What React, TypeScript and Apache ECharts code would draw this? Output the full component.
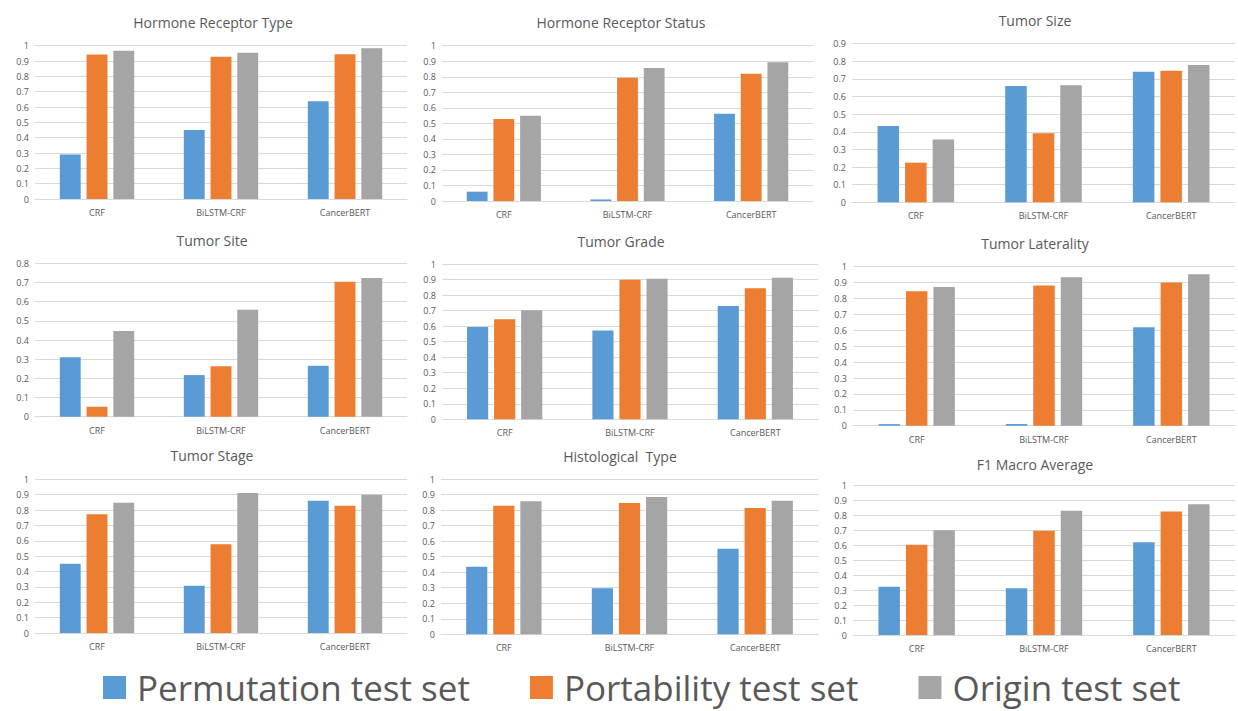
import React, { useEffect, useRef } from "react";
import * as echarts from "echarts";

const categories = ["CRF", "BiLSTM-CRF", "CancerBERT"];
const seriesNames = ["Permutation test set", "Portability test set", "Origin test set"];
const seriesColors = ["#5B9BD5", "#ED7D31", "#A5A5A5"];

const panelTitles = [
  "Hormone Receptor Type",
  "Hormone Receptor Status",
  "Tumor Size",
  "Tumor Site",
  "Tumor Grade",
  "Tumor Laterality",
  "Tumor Stage",
  "Histological  Type",
  "F1 Macro Average",
];
const panelMax = [1, 1, 0.9, 0.8, 1, 1, 1, 1, 1];

// [Permutation, Portability, Origin] for CRF, BiLSTM-CRF, CancerBERT
const hormoneTypePerm = [0.29, 0.45, 0.637];
const hormoneTypePort = [0.943, 0.928, 0.945];
const hormoneTypeOrig = [0.967, 0.954, 0.983];

const hormoneStatusPerm = [0.06, 0.01, 0.562];
const hormoneStatusPort = [0.528, 0.794, 0.82];
const hormoneStatusOrig = [0.549, 0.856, 0.893];

const tumorSizePerm = [0.433, 0.66, 0.741];
const tumorSizePort = [0.225, 0.392, 0.747];
const tumorSizeOrig = [0.357, 0.664, 0.779];

const tumorSitePerm = [0.31, 0.217, 0.266];
const tumorSitePort = [0.052, 0.263, 0.704];
const tumorSiteOrig = [0.447, 0.558, 0.723];

const tumorGradePerm = [0.594, 0.571, 0.73];
const tumorGradePort = [0.644, 0.899, 0.844];
const tumorGradeOrig = [0.702, 0.905, 0.912];

const lateralityPerm = [0.01, 0.01, 0.619];
const lateralityPort = [0.845, 0.881, 0.9];
const lateralityOrig = [0.872, 0.933, 0.952];

const tumorStagePerm = [0.451, 0.308, 0.861];
const tumorStagePort = [0.772, 0.577, 0.828];
const tumorStageOrig = [0.848, 0.911, 0.9];

const histTypePerm = [0.435, 0.296, 0.551];
const histTypePort = [0.828, 0.845, 0.813];
const histTypeOrig = [0.856, 0.884, 0.86];

const f1MacroPerm = [0.324, 0.313, 0.621];
const f1MacroPort = [0.605, 0.699, 0.828];
const f1MacroOrig = [0.701, 0.833, 0.876];

const panelData = [
  [hormoneTypePerm, hormoneTypePort, hormoneTypeOrig],
  [hormoneStatusPerm, hormoneStatusPort, hormoneStatusOrig],
  [tumorSizePerm, tumorSizePort, tumorSizeOrig],
  [tumorSitePerm, tumorSitePort, tumorSiteOrig],
  [tumorGradePerm, tumorGradePort, tumorGradeOrig],
  [lateralityPerm, lateralityPort, lateralityOrig],
  [tumorStagePerm, tumorStagePort, tumorStageOrig],
  [histTypePerm, histTypePort, histTypeOrig],
  [f1MacroPerm, f1MacroPort, f1MacroOrig],
];

// layout: [left, top, right, bottom] of each plot area
const gridRects = [
  [35, 45.7, 407, 199],
  [442, 45.7, 813, 201],
  [852, 43.7, 1235, 202.3],
  [35, 263.3, 407, 416.7],
  [442, 264, 818, 419.3],
  [853, 266.7, 1235, 425.7],
  [35, 479.3, 407, 633],
  [441, 479, 818, 634.3],
  [853, 485.7, 1235, 635],
];
const titlePos = [
  [213, 22.7],
  [621, 22],
  [1035, 20],
  [212, 240],
  [621, 241],
  [1035, 243],
  [212, 455],
  [620, 456],
  [1035, 464],
];

const FONT = "'Open Sans', 'Liberation Sans', sans-serif";
const TEXT_COLOR = "#595959";
const GRID_COLOR = "#D9D9D9";

export default function App() {
  const ref = useRef<HTMLDivElement>(null);

  useEffect(() => {
    if (!ref.current) return;
    const chart = echarts.init(ref.current, null, { renderer: "svg" });

    const grid = gridRects.map(([l, t, r, b]) => ({
      left: l,
      top: t,
      width: r - l,
      height: b - t,
      containLabel: false,
    }));

    const xAxis = gridRects.map((_, i) => ({
      type: "category",
      gridIndex: i,
      data: categories,
      axisTick: { show: false },
      axisLine: { show: true, lineStyle: { color: GRID_COLOR, width: 1 } },
      axisLabel: { color: TEXT_COLOR, fontSize: 9, fontFamily: FONT, margin: 9 },
    }));

    const yAxis = gridRects.map((_, i) => ({
      type: "value",
      gridIndex: i,
      min: 0,
      max: panelMax[i],
      interval: 0.1,
      axisLine: { show: false },
      axisTick: { show: false },
      splitLine: { show: true, lineStyle: { color: GRID_COLOR, width: 1 } },
      axisLabel: { color: TEXT_COLOR, fontSize: 9, fontFamily: FONT, margin: 6 },
    }));

    const series: any[] = [];
    panelData.forEach((sets, i) => {
      sets.forEach((vals, k) => {
        series.push({
          type: "bar",
          name: seriesNames[k],
          xAxisIndex: i,
          yAxisIndex: i,
          data: vals,
          itemStyle: { color: seriesColors[k] },
          barGap: "28%",
          barCategoryGap: "40%",
        });
      });
    });

    const graphic = panelTitles.map((t, i) => ({
      type: "text",
      x: titlePos[i][0],
      y: titlePos[i][1],
      style: {
        text: t,
        fill: TEXT_COLOR,
        fontSize: 14,
        fontFamily: FONT,
        textAlign: "center",
        textVerticalAlign: "middle",
      },
    }));

    chart.setOption({
      animation: false,
      backgroundColor: "#ffffff",
      color: seriesColors,
      grid,
      xAxis,
      yAxis,
      series,
      graphic,
      legend: {
        data: seriesNames,
        left: 103,
        top: 670,
        padding: 0,
        itemWidth: 23,
        itemHeight: 23,
        itemGap: 60,
        icon: "rect",
        textStyle: {
          color: TEXT_COLOR,
          fontSize: 35,
          fontFamily: FONT,
          padding: [0, 0, 0, 6],
        },
        selectedMode: false,
      },
    });

    return () => chart.dispose();
  }, []);

  return (
    <div
      ref={ref}
      style={{ position: "absolute", left: 0, top: 0, width: 1238, height: 711, background: "#fff" }}
    />
  );
}
